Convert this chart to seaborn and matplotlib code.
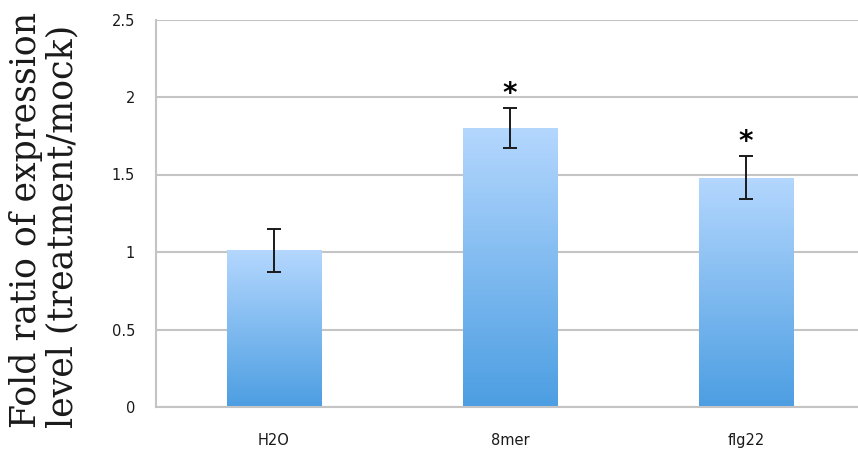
import numpy as np
import pandas as pd
import matplotlib
matplotlib.use("Agg")
import matplotlib.pyplot as plt
from matplotlib.colors import LinearSegmentedColormap
import seaborn as sns

# Data
treatments = ["H2O", "8mer", "flg22"]
fold_ratio = [1.01, 1.80, 1.48]
std_err = [0.14, 0.13, 0.14]
significant = [False, True, True]
y_ticks = [0, 0.5, 1, 1.5, 2, 2.5]
y_tick_labels = ["0", "0.5", "1", "1.5", "2", "2.5"]

df = pd.DataFrame({"treatment": treatments, "ratio": fold_ratio})

sns.set_style("white")
plt.rcParams["font.family"] = ["DejaVu Sans"]

fig = plt.figure(figsize=(8.58, 4.59), dpi=100)
ax = fig.add_axes([156 / 858, 52 / 459, 708 / 858, 387.5 / 459])

sns.barplot(data=df, x="treatment", y="ratio", color="#7fb8ee",
            width=0.4, errorbar=None, ax=ax, zorder=2, linewidth=0)

# Vertical blue gradient inside each bar
grad_cmap = LinearSegmentedColormap.from_list("barfade", ["#4c9ee2", "#b4d7fe"])
gradient = np.linspace(0, 1, 256).reshape(-1, 1)
for patch in ax.patches:
    x0, y0 = patch.get_x(), patch.get_y()
    w, h = patch.get_width(), patch.get_height()
    im = ax.imshow(gradient, cmap=grad_cmap, aspect="auto", origin="lower",
                   extent=[x0, x0 + w, y0, y0 + h], zorder=2.5,
                   interpolation="bicubic")
    im.set_clip_path(patch)

# Error bars
centers = [p.get_x() + p.get_width() / 2 for p in ax.patches]
ax.errorbar(centers, fold_ratio, yerr=std_err, fmt="none", ecolor="#1a1a1a",
            elinewidth=1.4, capsize=5, capthick=1.4, zorder=4)

# Significance marks
for cx, val, err, sig in zip(centers, fold_ratio, std_err, significant):
    if sig:
        ax.text(cx, val + err + 0.0, "*", ha="center", va="bottom",
                fontsize=20, fontweight="bold", color="black", zorder=5)

ax.set_xlim(-0.5, 2.5)
ax.set_ylim(0, 2.5)
ax.set_yticks(y_ticks)
ax.set_yticklabels(y_tick_labels)
ax.yaxis.grid(True, color="#c4c4c4", linewidth=1.5, zorder=0)
ax.set_axisbelow(True)

# Category labels centred, tick marks at category boundaries
ax.set_xticks([0, 1, 2])
ax.set_xticklabels(treatments)
ax.set_xticks([-0.5, 0.5, 1.5, 2.5], minor=True)
ax.tick_params(axis="x", which="major", length=0, pad=19,
               labelsize=10.5, labelcolor="#1a1a1a")
ax.tick_params(axis="x", which="minor", length=6, width=1.2,
               color="#c4c4c4", direction="out")
ax.tick_params(axis="y", length=6, width=1.2, color="#c4c4c4",
               direction="out", pad=9, labelsize=10.5, labelcolor="#1a1a1a")

ax.set_xlabel("")
ax.set_ylabel("")
for side in ["top", "right"]:
    ax.spines[side].set_visible(False)
for side in ["left", "bottom"]:
    ax.spines[side].set_color("#c4c4c4")
    ax.spines[side].set_linewidth(1.5)

fig.text(44 / 858, 1 - 220 / 459,
         "Fold ratio of expression\nlevel (treatment/mock)",
         rotation=90, ha="center", va="center", multialignment="left",
         fontsize=25, family=["DejaVu Serif"], color="#1a1a1a",
         linespacing=1.08)

fig.savefig("out.png", dpi=100)
